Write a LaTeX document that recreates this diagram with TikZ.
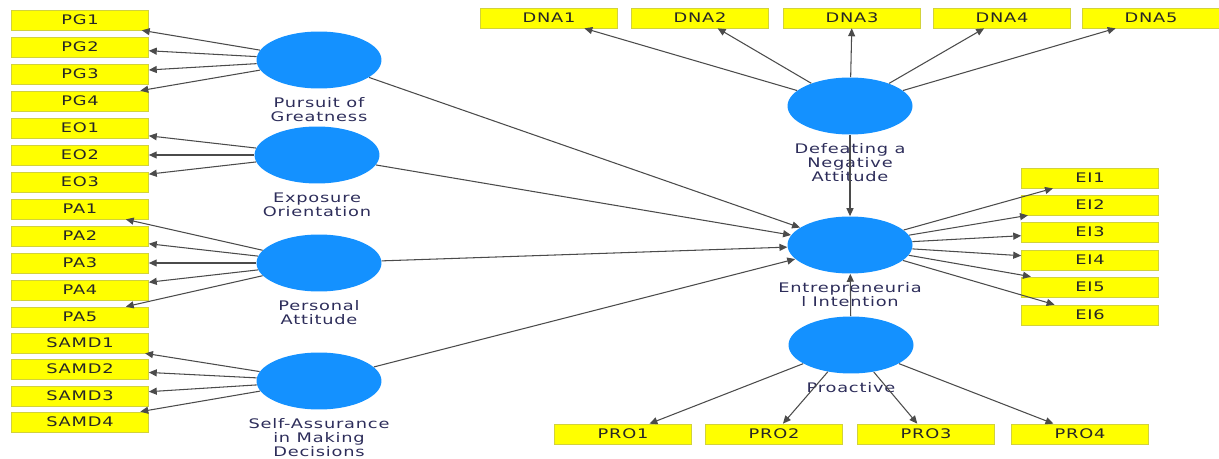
\documentclass[tikz,border=0pt]{standalone}
\usepackage{fontspec}
\setmainfont{DejaVu Sans}[FakeStretch=1.35, LetterSpace=6]
\usepackage{xcolor}
\usepackage{tikz}
\usetikzlibrary{arrows.meta, positioning, shapes.geometric}
\definecolor{pls_blue}{RGB}{20, 145, 255}
\definecolor{pls_yellow}{RGB}{255, 255, 0}
\definecolor{pls_edge}{RGB}{210, 210, 60}
\definecolor{pls_text}{RGB}{45, 45, 90}
\definecolor{pls_line}{RGB}{75, 75, 75}

\begin{document}
\begin{tikzpicture}[x=0.02cm, y=-0.02cm,
    latent/.style={ellipse, fill=pls_blue, minimum width=2.5cm,
                   minimum height=1.14cm, inner sep=0},
    item/.style={rectangle, draw=pls_edge, fill=pls_yellow,
                 minimum width=2.74cm, minimum height=0.4cm, inner sep=0,
                 font=\fontsize{7.5}{8}\selectfont, text=black!85},
    lbl/.style={align=center, inner sep=0,
                font=\fontsize{7.5}{8}\selectfont, text=pls_text},
    load/.style={-{Triangle[length=4.5pt, width=4pt]}, pls_line, line width=0.6pt},
    effect/.style={load},
  ]
  \useasboundingbox (0, 0) rectangle (1219, 459);

  % latent variables
  \node[latent] (pg) at (319, 60) {};
  \node[latent] (eo) at (317, 155) {};
  \node[latent] (pa) at (319, 263) {};
  \node[latent] (samd) at (319, 381) {};
  \node[latent] (dna) at (850, 106) {};
  \node[latent] (ei) at (850, 245) {};
  \node[latent] (pro) at (851, 345) {};

  \node[lbl, below=0.17cm of pg] (pglbl) {Pursuit of\\Greatness};
  \node[lbl, below=0.17cm of eo] (eolbl) {Exposure\\Orientation};
  \node[lbl, below=0.17cm of pa] (palbl) {Personal\\Attitude};
  \node[lbl, below=0.17cm of samd] (samdlbl) {Self-Assurance\\in Making\\Decisions};
  \node[lbl, below=0.17cm of dna] (dnalbl) {Defeating a\\Negative\\Attitude};
  \node[lbl, below=0.17cm of ei] (eilbl) {Entrepreneuria\\l Intention};
  \node[lbl, below=0.17cm of pro] (prolbl) {Proactive};

  % indicators
  \node[item] (pg1) at (80, 20) {PG1};
  \node[item] (pg2) at (80, 47) {PG2};
  \node[item] (pg3) at (80, 74) {PG3};
  \node[item] (pg4) at (80, 101) {PG4};
  \node[item] (eo1) at (80, 128) {EO1};
  \node[item] (eo2) at (80, 155) {EO2};
  \node[item] (eo3) at (80, 182) {EO3};
  \node[item] (pa1) at (80, 209) {PA1};
  \node[item] (pa2) at (80, 236) {PA2};
  \node[item] (pa3) at (80, 263) {PA3};
  \node[item] (pa4) at (80, 290) {PA4};
  \node[item] (pa5) at (80, 317) {PA5};
  \node[item] (samd1) at (80, 343) {SAMD1};
  \node[item] (samd2) at (80, 369) {SAMD2};
  \node[item] (samd3) at (80, 396) {SAMD3};
  \node[item] (samd4) at (80, 422) {SAMD4};

  \node[item] (dna1) at (549, 18) {DNA1};
  \node[item] (dna2) at (700, 18) {DNA2};
  \node[item] (dna3) at (852, 18) {DNA3};
  \node[item] (dna4) at (1002, 18) {DNA4};
  \node[item] (dna5) at (1151, 18) {DNA5};

  \node[item] (ei1) at (1090, 178) {EI1};
  \node[item] (ei2) at (1090, 205) {EI2};
  \node[item] (ei3) at (1090, 232) {EI3};
  \node[item] (ei4) at (1090, 260) {EI4};
  \node[item] (ei5) at (1090, 287) {EI5};
  \node[item] (ei6) at (1090, 315) {EI6};

  \node[item] (pro1) at (623, 434) {PRO1};
  \node[item] (pro2) at (774, 434) {PRO2};
  \node[item] (pro3) at (926, 434) {PRO3};
  \node[item] (pro4) at (1080, 434) {PRO4};

  % outer loadings
  \draw[load] (pg) -- (pg1);  \draw[load] (pg) -- (pg2);
  \draw[load] (pg) -- (pg3);  \draw[load] (pg) -- (pg4);
  \draw[load] (eo) -- (eo1);  \draw[load] (eo) -- (eo2);
  \draw[load] (eo) -- (eo3);
  \draw[load] (pa) -- (pa1);  \draw[load] (pa) -- (pa2);
  \draw[load] (pa) -- (pa3);  \draw[load] (pa) -- (pa4);
  \draw[load] (pa) -- (pa5);
  \draw[load] (samd) -- (samd1);  \draw[load] (samd) -- (samd2);
  \draw[load] (samd) -- (samd3);  \draw[load] (samd) -- (samd4);
  \draw[load] (dna) -- (dna1);  \draw[load] (dna) -- (dna2);
  \draw[load] (dna) -- (dna3);  \draw[load] (dna) -- (dna4);
  \draw[load] (dna) -- (dna5);
  \draw[load] (ei) -- (ei1);  \draw[load] (ei) -- (ei2);
  \draw[load] (ei) -- (ei3);  \draw[load] (ei) -- (ei4);
  \draw[load] (ei) -- (ei5);  \draw[load] (ei) -- (ei6);
  \draw[load] (pro) -- (pro1);  \draw[load] (pro) -- (pro2);
  \draw[load] (pro) -- (pro3);  \draw[load] (pro) -- (pro4);

  % inner model
  \draw[effect] (pg) -- (ei);
  \draw[effect] (eo) -- (ei);
  \draw[effect] (pa) -- (ei);
  \draw[effect] (samd) -- (ei);
  \draw[effect] (dna) -- (ei);
  \draw[effect] (pro) -- (ei);
\end{tikzpicture}
\end{document}
